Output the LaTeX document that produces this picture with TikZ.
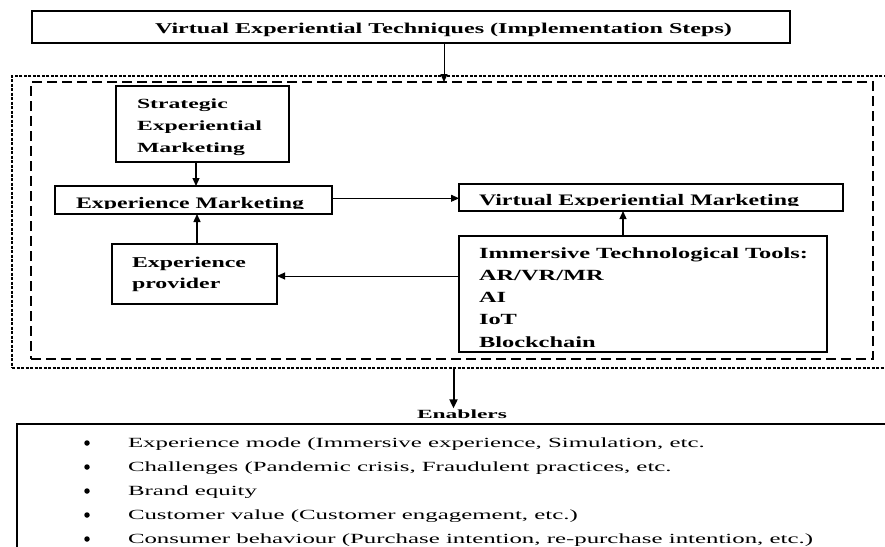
\documentclass[tikz,border=0pt]{standalone}
\usepackage{fontspec}
\setmainfont{Liberation Serif}
\usepackage{graphicx}
\usetikzlibrary{arrows.meta}
\newsavebox\fitbox
\newdimen\fitdim
\newcommand\setfit[2]{\sbox\fitbox{#2}\fitdim=\wd\fitbox\pgfmathsetmacro\fitf{#1/\fitdim}}
\newcommand\sx[1]{\scalebox{\fitf}[1]{#1}}
\newcommand\fitline[2]{\setfit{#1}{#2}\scalebox{\fitf}[1]{\usebox\fitbox}}
\newcommand\vlines[2]{\vtop{\baselineskip=#1\lineskiplimit=-100pt\lineskip=0pt #2}}
\begin{document}
\begin{tikzpicture}[x=1pt,y=-1pt,
  box/.style={draw,line width=1.4pt,inner sep=0pt,outer sep=0pt},
  txt/.style={inner sep=0pt,outer sep=0pt,anchor=base west},
  arr/.style={-{Triangle[length=8pt,width=7pt]},line width=1pt},
  bul/.style={circle,fill,inner sep=0pt,minimum size=5.5pt}]
\useasboundingbox (0,0) rectangle (885,546);
\clip (0,0) rectangle (885,546);

% frames
\node[draw,line width=1.2pt,dash pattern=on 3pt off 1.5pt,inner sep=0pt,outer sep=0pt,
      minimum width=883pt,minimum height=292pt] (outer) at (453.5,222) {};
\node[draw,line width=1.6pt,dash pattern=on 10pt off 5pt,inner sep=0pt,outer sep=0pt,
      minimum width=842pt,minimum height=277pt] (inner) at (452,220.5) {};

% boxes
\node[box,minimum width=758pt,minimum height=32pt] (title) at (411,27) {};
\node[box,minimum width=173pt,minimum height=76pt] (strat) at (202.5,124) {};
\node[box,minimum width=277pt,minimum height=28pt] (em) at (193.5,200) {};
\node[box,minimum width=384pt,minimum height=27pt] (vem) at (651,197.5) {};
\node[box,minimum width=368pt,minimum height=116pt] (itt) at (643,294) {};
\node[box,minimum width=165pt,minimum height=60pt] (ep) at (194.5,274) {};
\node[box,minimum width=878pt,minimum height=136pt] (list) at (456,492) {};

% texts
\node[txt] (titletxt) at (155,33) {\fontsize{15}{18}\selectfont\bfseries
  \fitline{577}{Virtual Experiential Techniques (Implementation Steps)}};
\node[txt] (strattxt) at (137,108) {\fontsize{14}{22}\selectfont\bfseries
  \setfit{125}{Experiential}%
  \vlines{22pt}{\hbox{\sx{Strategic}}\hbox{\sx{Experiential}}\hbox{\sx{Marketing}}}};
\begin{scope}
  \clip (55,186) rectangle (332,208.7);
  \node[txt] (emtxt) at (76,208) {\fontsize{16}{18}\selectfont\bfseries
    \fitline{228}{Experience Marketing}};
\end{scope}
\begin{scope}
  \clip (459,184) rectangle (843,205.9);
  \node[txt] (vemtxt) at (479,205.3) {\fontsize{16}{18}\selectfont\bfseries
    \fitline{320}{Virtual Experiential Marketing}};
\end{scope}
\node[txt] (itttxt) at (479,258) {\fontsize{15.5}{22}\selectfont\bfseries
  \setfit{329}{Immersive Technological Tools:}%
  \vlines{22.25pt}{\hbox{\sx{Immersive Technological Tools:}}\hbox{\sx{AR/VR/MR}}\hbox{\sx{AI}}\hbox{\sx{IoT}}\hbox{\sx{Blockchain}}}};
\node[txt] (eptxt) at (132,267) {\fontsize{15}{21}\selectfont\bfseries
  \setfit{114}{Experience}%
  \vlines{21pt}{\hbox{\sx{Experience}}\hbox{\sx{provider}}}};
\node[txt,inner sep=1pt] (enab) at (416,418) {\fontsize{12.5}{15}\selectfont\bfseries
  \fitline{90}{Enablers}};
\node[txt] (listtxt) at (128,447) {\fontsize{14}{24}\selectfont
  \setfit{685}{Consumer behaviour (Purchase intention, re-purchase intention, etc.)}%
  \vlines{24pt}{%
    \hbox{\sx{Experience mode (Immersive experience, Simulation, etc.}}%
    \hbox{\sx{Challenges (Pandemic crisis, Fraudulent practices, etc.}}%
    \hbox{\sx{Brand equity}}%
    \hbox{\sx{Customer value (Customer engagement, etc.)}}%
    \hbox{\sx{Consumer behaviour (Purchase intention, re-purchase intention, etc.)}}}};
\foreach \i in {0,...,4} \node[bul] (b\i) at (87,{443+24*\i}) {};

% connectors
\draw[arr] ([xshift=33pt]title.south) -- ([xshift=33pt]title.south |- inner.north);
\draw[arr,line width=1.2pt] ([xshift=-6.5pt]strat.south) -- ([xshift=-6.5pt]strat.south |- em.north);
\draw[arr,line width=1.4pt] ([xshift=2.5pt]ep.north) -- ([xshift=2.5pt]ep.north |- em.south);
\draw[arr,line width=0.9pt] ([yshift=1.7pt]em.east) -- ([yshift=1.7pt]em.east -| vem.west);
\draw[arr,line width=1.3pt] ([xshift=-20pt]itt.north) -- ([xshift=-20pt]itt.north |- vem.south);
\draw[arr] ([yshift=-2pt]ep.east -| itt.west) -- ([yshift=-2pt]ep.east);
\draw[arr,line width=2pt,-{Triangle[length=9pt,width=8pt]}] (outer.south) -- (outer.south |- enab.north);
\end{tikzpicture}
\end{document}
